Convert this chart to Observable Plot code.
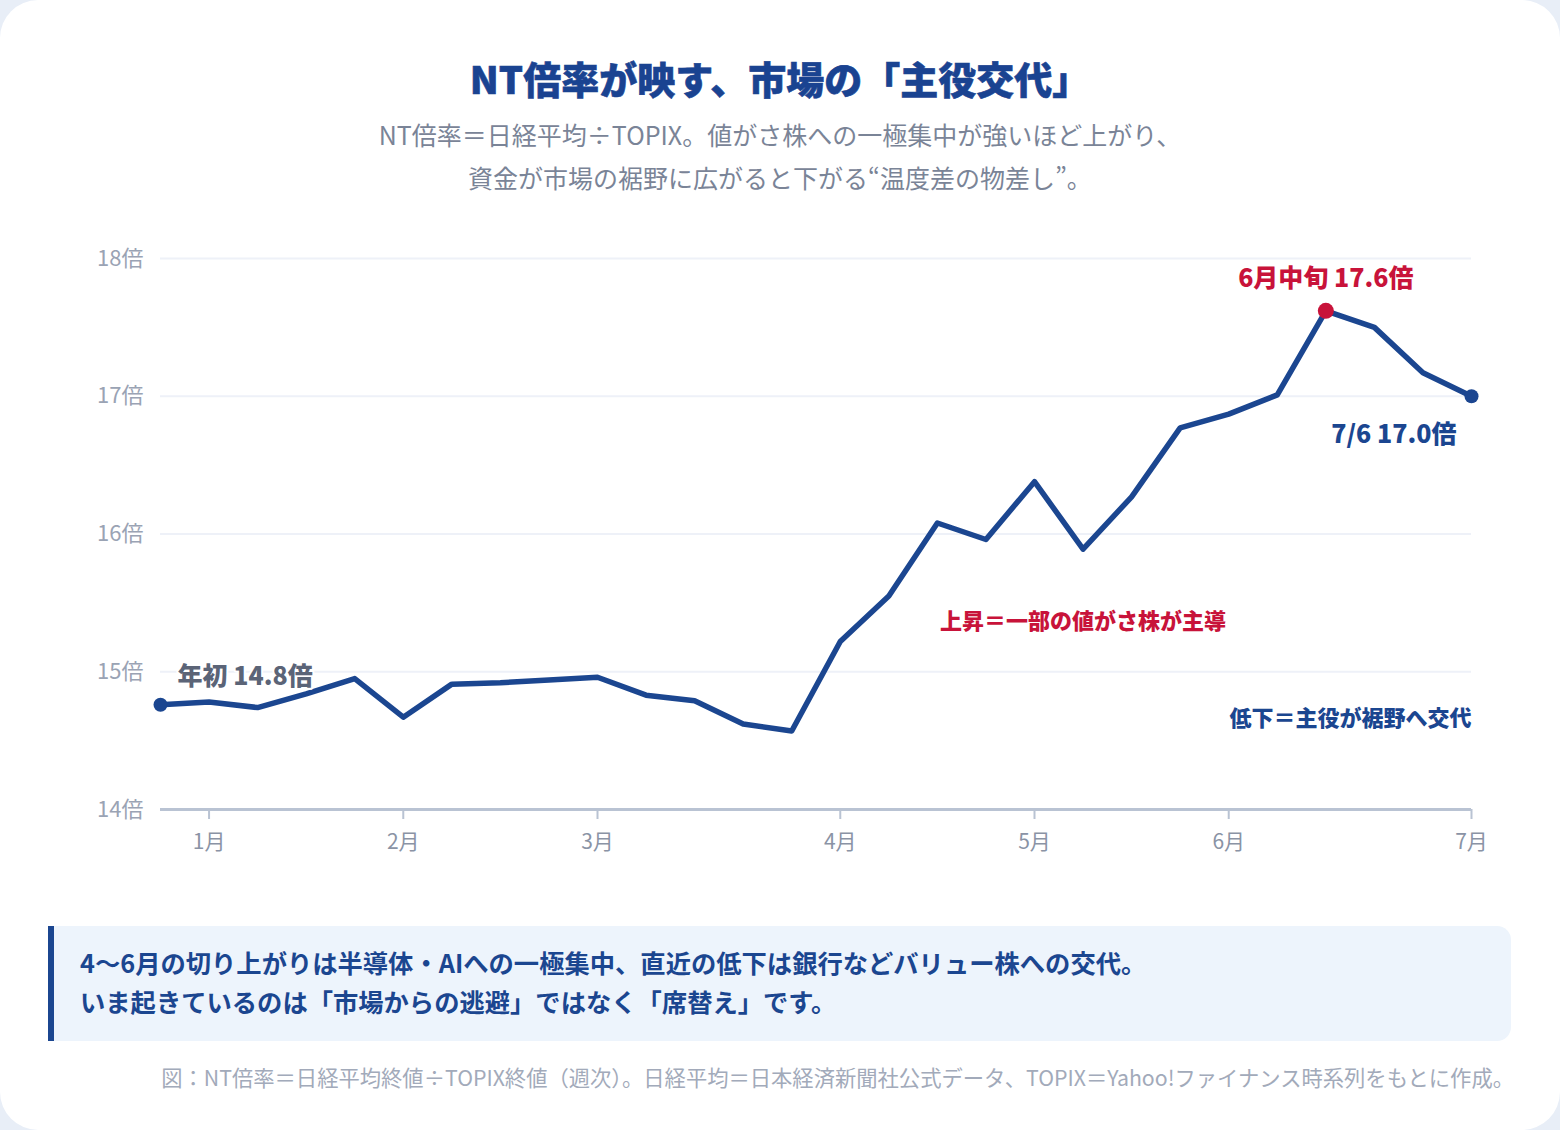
<!DOCTYPE html>
<html lang="ja">
<head>
<meta charset="utf-8">
<script src="https://cdn.jsdelivr.net/npm/d3@7"></script>
<script src="https://cdn.jsdelivr.net/npm/@observablehq/plot@0.6"></script>
<style>
  html, body { margin: 0; padding: 0; }
  body { width: 1560px; height: 1130px; background: #e8eef7; font-family: "Noto Sans CJK JP", "Noto Sans", sans-serif; overflow: hidden; }
  #card { position: absolute; left: 0; top: 0; width: 1560px; height: 1130px; background: #fff; border-radius: 38px; }
  #title { position: absolute; left: 0; width: 1560px; top: 54px; line-height: 48px; text-align: center; font-size: 38px; font-weight: 900; color: #1a4391; -webkit-text-stroke: 0.6px #1a4391; }
  #subtitle { position: absolute; left: 0; width: 1560px; top: 113px; line-height: 43px; text-align: center; font-size: 25px; color: #7a8497; }
  #chart { position: absolute; left: 0; top: 220px; }
  #callout { position: absolute; left: 48px; top: 926px; width: 1457px; height: 115px; background: #edf4fc; border-left: 6px solid #1b4690; border-radius: 0 14px 14px 0; box-sizing: content-box; }
  #callout div { position: absolute; left: 26px; top: 17px; font-size: 25.3px; font-weight: 700; line-height: 39px; color: #1b4690; white-space: nowrap; }
  #footer { position: absolute; right: 46px; top: 1063px; line-height: 28px; font-size: 21.3px; color: #a2aaba; white-space: nowrap; }
</style>
</head>
<body>
<div id="card">
  <div id="title">NT倍率が映す、市場の「主役交代」</div>
  <div id="subtitle">NT倍率＝日経平均÷TOPIX。値がさ株への一極集中が強いほど上がり、<br>資金が市場の裾野に広がると下がる“温度差の物差し”。</div>
  <div id="chart"></div>
  <div id="callout"><div>4〜6月の切り上がりは半導体・AIへの一極集中、直近の低下は銀行などバリュー株への交代。<br>いま起きているのは「市場からの逃避」ではなく「席替え」です。</div></div>
  <div id="footer">図：NT倍率＝日経平均終値÷TOPIX終値（週次）。日経平均＝日本経済新聞社公式データ、TOPIX＝Yahoo!ファイナンス時系列をもとに作成。</div>
</div>
<script>
// Weekly NT ratio (index 0 = year start, last = 7/6)
const ntRatio = [14.76, 14.78, 14.74, 14.84, 14.95, 14.67, 14.91, 14.92, 14.94, 14.96,
                 14.83, 14.79, 14.62, 14.57, 15.22, 15.55, 16.08, 15.96, 16.38, 15.89,
                 16.27, 16.77, 16.87, 17.01, 17.62, 17.50, 17.17, 17.00];
const monthTickWeek = [1, 5, 9, 14, 18, 22, 27];
const monthLabels = ["1月", "2月", "3月", "4月", "5月", "6月", "7月"];
const yTicks = [14, 15, 16, 17, 18];
const labelStart = "年初 14.8倍";
const labelPeak = "6月中旬 17.6倍";
const labelEnd = "7/6 17.0倍";
const noteUp = "上昇＝一部の値がさ株が主導";
const noteDown = "低下＝主役が裾野へ交代";

const data = ntRatio.map((v, i) => ({week: i, v}));
const peakIdx = ntRatio.indexOf(d3.max(ntRatio));
const first = [data[0]];
const last = [data[data.length - 1]];
const peak = [data[peakIdx]];
const FONT = "Noto Sans CJK JP, Noto Sans, sans-serif";
const BLUE = "#1b4690";
const RED = "#c8133a";

const chart = Plot.plot({
  width: 1560,
  height: 660,
  marginLeft: 160,
  marginRight: 89,
  marginTop: 38,
  marginBottom: 71,
  style: {fontFamily: FONT, background: "transparent", overflow: "visible"},
  x: {domain: [0, ntRatio.length - 1], label: null},
  y: {domain: [14, 18], label: null},
  marks: [
    Plot.gridY(yTicks.slice(1), {stroke: "#eef1f8", strokeOpacity: 1, strokeWidth: 2}),
    Plot.axisY(yTicks, {tickSize: 0, tickPadding: 17, fontSize: 22, fill: "#9aa3b4", label: null, tickFormat: d => d + "倍"}),
    Plot.axisX(monthTickWeek, {tickSize: 10, tickPadding: 15, stroke: "#b9c3d3", strokeWidth: 2, fontSize: 21, fill: "#8a93a5", label: null,
      tickFormat: d => monthLabels[monthTickWeek.indexOf(d)]}),
    Plot.ruleY([14], {stroke: "#b9c3d3", strokeWidth: 3}),
    Plot.line(data, {x: "week", y: "v", stroke: BLUE, strokeWidth: 5.5, strokeLinejoin: "round", strokeLinecap: "round"}),
    Plot.dot(first.concat(last), {x: "week", y: "v", r: 7, fill: BLUE}),
    Plot.dot(peak, {x: "week", y: "v", r: 8, fill: RED}),
    Plot.text(first, {x: "week", y: "v", text: () => labelStart, textAnchor: "start", dx: 17, dy: -28,
      fontSize: 25, fontWeight: 900, fill: "#5b6477", stroke: "white", strokeWidth: 4}),
    Plot.text(peak, {x: "week", y: "v", text: () => labelPeak, textAnchor: "middle", dy: -32,
      fontSize: 25, fontWeight: 900, fill: RED, stroke: "white", strokeWidth: 4}),
    Plot.text(last, {x: "week", y: "v", text: () => labelEnd, textAnchor: "end", dx: -15, dy: 39,
      fontSize: 25, fontWeight: 900, fill: BLUE, stroke: "white", strokeWidth: 4}),
    Plot.text([noteUp], {x: 19, y: 15.36, text: d => d, textAnchor: "middle",
      fontSize: 22, fontWeight: 900, fill: RED, stroke: "white", strokeWidth: 4}),
    Plot.text([noteDown], {x: ntRatio.length - 1, y: 14.66, text: d => d, textAnchor: "end",
      fontSize: 22, fontWeight: 900, fill: BLUE, stroke: "white", strokeWidth: 4})
  ]
});
document.getElementById("chart").appendChild(chart);
</script>
</body>
</html>
